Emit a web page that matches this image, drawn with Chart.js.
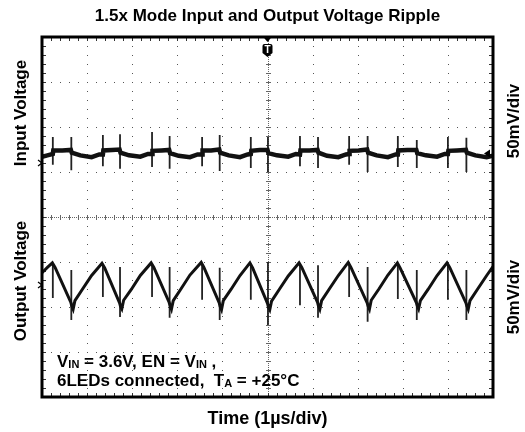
<!DOCTYPE html>
<html>
<head>
<meta charset="utf-8">
<script src="https://cdn.jsdelivr.net/npm/chart.js@4.4.1/dist/chart.umd.min.js"></script>
<style>
  html, body { margin: 0; padding: 0; background: #fff; }
  #wrap { width: 525px; height: 432px; }
</style>
</head>
<body>
<div id="wrap"><canvas id="scope" width="525" height="432"></canvas></div>
<script>
// scope screen: 10 x 8 divisions, 1us/div, 50mV/div on both channels
const timeDivs = [0, 10];
const voltDivs = [-4, 4];

// switching events (us) - both traces spike here
const switchTime = [0.24, 0.65, 1.35, 1.73, 2.44, 2.83, 3.55, 3.94, 4.63, 5.01,
  5.72, 6.12, 6.81, 7.22, 7.89, 8.31, 9.00, 9.41];

// channel 1, input voltage (divisions from screen centre)
const inTime = [0.00, 0.12,
  0.24, 0.25, 0.45, 0.64, 0.66, 0.85, 1.10, 1.27,
  1.35, 1.36, 1.55, 1.72, 1.74, 1.93, 2.18, 2.35,
  2.44, 2.45, 2.65, 2.82, 2.84, 3.03, 3.28, 3.45,
  3.55, 3.56, 3.75, 3.93, 3.95, 4.14, 4.39, 4.56,
  4.63, 4.64, 4.83, 5.00, 5.02, 5.21, 5.46, 5.63,
  5.72, 5.73, 5.93, 6.11, 6.13, 6.32, 6.57, 6.74,
  6.81, 6.82, 7.02, 7.21, 7.23, 7.42, 7.67, 7.84,
  7.89, 7.90, 8.10, 8.30, 8.32, 8.51, 8.76, 8.93,
  9.00, 9.01, 9.20, 9.40, 9.42, 9.61, 9.86, 10.00];
const inLevel = [1.34, 1.37,
  1.40, 1.48, 1.48, 1.49, 1.43, 1.37, 1.33, 1.39,
  1.39, 1.48, 1.49, 1.50, 1.43, 1.37, 1.34, 1.40,
  1.40, 1.47, 1.48, 1.49, 1.42, 1.36, 1.33, 1.39,
  1.39, 1.48, 1.48, 1.50, 1.43, 1.37, 1.33, 1.39,
  1.40, 1.47, 1.49, 1.49, 1.42, 1.37, 1.34, 1.40,
  1.39, 1.48, 1.48, 1.49, 1.43, 1.36, 1.33, 1.39,
  1.40, 1.47, 1.48, 1.50, 1.43, 1.37, 1.33, 1.39,
  1.39, 1.48, 1.49, 1.49, 1.42, 1.37, 1.34, 1.40,
  1.40, 1.47, 1.48, 1.49, 1.43, 1.37, 1.33, 1.36];
const inSpikeHigh = [1.78, 1.78, 1.82, 1.84, 1.89, 1.80, 1.78, 1.82, 1.78, 1.78,
  1.80, 1.78, 1.80, 1.80, 1.80, 1.71, 1.78, 1.76];
const inSpikeLow = [1.16, 1.04, 1.13, 1.07, 1.11, 1.07, 1.13, 1.02, 1.09, 1.00,
  1.13, 1.09, 1.16, 1.00, 1.11, 1.09, 1.09, 1.00];

// channel 2, output voltage
const outTime = [0.00, 0.12,
  0.23, 0.29, 0.64, 0.66, 0.69, 0.73, 0.90, 1.10,
  1.33, 1.39, 1.72, 1.74, 1.77, 1.81, 1.98, 2.18,
  2.42, 2.48, 2.82, 2.84, 2.87, 2.91, 3.08, 3.28,
  3.53, 3.59, 3.93, 3.95, 3.98, 4.02, 4.19, 4.39,
  4.61, 4.67, 5.00, 5.02, 5.05, 5.09, 5.26, 5.46,
  5.70, 5.76, 6.11, 6.13, 6.16, 6.20, 6.37, 6.57,
  6.79, 6.85, 7.21, 7.23, 7.26, 7.30, 7.47, 7.67,
  7.88, 7.94, 8.30, 8.32, 8.35, 8.39, 8.56, 8.76,
  8.98, 9.04, 9.40, 9.42, 9.45, 9.49, 9.66, 9.86,
  10.00];
const outLevel = [-1.24, -1.12,
  -1.02, -1.12, -1.90, -1.98, -2.05, -1.86, -1.60, -1.30,
  -1.03, -1.13, -1.91, -1.98, -2.04, -1.85, -1.61, -1.30,
  -1.02, -1.12, -1.90, -1.97, -2.05, -1.86, -1.60, -1.29,
  -1.01, -1.12, -1.91, -1.99, -2.06, -1.86, -1.61, -1.30,
  -1.02, -1.13, -1.92, -2.00, -2.06, -1.87, -1.61, -1.31,
  -1.02, -1.12, -1.90, -1.98, -2.05, -1.86, -1.60, -1.30,
  -1.01, -1.12, -1.91, -1.98, -2.05, -1.85, -1.60, -1.29,
  -1.02, -1.13, -1.90, -1.97, -2.04, -1.86, -1.61, -1.30,
  -1.02, -1.12, -1.91, -1.98, -2.05, -1.86, -1.60, -1.30,
  -1.10];
const outSpikeHigh = [-1.04, -1.18, -1.04, -1.11, -1.04, -1.11, -1.04, -1.13, -1.04, -1.00,
  -1.04, -1.07, -1.04, -1.11, -1.04, -1.18, -1.04, -1.18];
const outSpikeLow = [-1.80, -2.29, -1.78, -2.22, -1.78, -2.24, -1.84, -2.29, -1.84, -2.40,
  -1.96, -2.24, -1.78, -2.33, -1.82, -2.29, -1.84, -2.29];

// channel ground markers (div) and trigger
const chMarker = [1.20, -1.51];
const trigTime = 5;
const trigLevel = 1.41;

const FONT = '"Liberation Sans", Arial, sans-serif';

function trace(ts, vs) {
  return ts.map((t, i) => ({ x: t, y: vs[i] }));
}

function spikes(ts, hi, lo) {
  const pts = [];
  ts.forEach((t, i) => {
    pts.push({ x: t, y: hi[i] }, { x: t, y: lo[i] }, { x: t, y: null });
  });
  return pts;
}

// graticule: dotted divisions, crosshair with minor ticks, edge ticks
const graticule = {
  id: "graticule",
  beforeDatasetsDraw(chart) {
    const { ctx, chartArea: a, scales: { x, y } } = chart;
    ctx.save();
    ctx.fillStyle = "#555";
    const xs = [], ys = [];
    for (let j = 0; j <= 50; j++) xs.push(Math.round(x.getPixelForValue(j * 0.2)));
    for (let j = 0; j <= 40; j++) ys.push(Math.round(y.getPixelForValue(-4 + j * 0.2)));

    for (let i = 1; i < 10; i++) {
      if (i === 5) continue;
      const px = Math.round(x.getPixelForValue(i));
      ys.forEach((py) => ctx.fillRect(px, py, 1, 1));
    }
    for (let i = -3; i <= 3; i++) {
      if (i === 0) continue;
      const py = Math.round(y.getPixelForValue(i));
      xs.forEach((px) => ctx.fillRect(px, py, 1, 1));
    }

    // crosshair
    const cx = Math.round(x.getPixelForValue(5));
    const cy = Math.round(y.getPixelForValue(0));
    ctx.fillStyle = "#666";
    for (let p = a.top; p < a.bottom; p += 2) ctx.fillRect(cx, p, 1, 1);
    for (let p = a.left; p < a.right; p += 2) ctx.fillRect(p, cy, 1, 1);
    ys.forEach((py) => ctx.fillRect(cx - 2, py, 5, 1));
    xs.forEach((px) => ctx.fillRect(px, cy - 2, 1, 5));

    // edge ticks
    ctx.fillStyle = "#333";
    ys.forEach((py) => {
      ctx.fillRect(a.left, py, 4, 1);
      ctx.fillRect(a.right - 4, py, 4, 1);
    });
    xs.forEach((px) => {
      ctx.fillRect(px, a.top, 1, 4);
      ctx.fillRect(px, a.bottom - 4, 1, 4);
    });
    ctx.restore();
  },
  afterDatasetsDraw(chart) {
    const { ctx, chartArea: a, scales: { x, y } } = chart;
    ctx.save();
    ctx.strokeStyle = "#000";
    ctx.lineWidth = 3;
    ctx.strokeRect(a.left, a.top, a.right - a.left, a.bottom - a.top);

    // trigger position marker
    const tx = x.getPixelForValue(trigTime);
    ctx.fillStyle = "#000";
    ctx.beginPath();
    ctx.moveTo(tx - 5, a.top - 1);
    ctx.lineTo(tx + 5, a.top - 1);
    ctx.lineTo(tx, a.top + 5);
    ctx.closePath();
    ctx.fill();
    ctx.beginPath();
    ctx.moveTo(tx - 5, a.top + 9);
    ctx.quadraticCurveTo(tx - 5, a.top + 7, tx - 3, a.top + 7);
    ctx.lineTo(tx + 3, a.top + 7);
    ctx.quadraticCurveTo(tx + 5, a.top + 7, tx + 5, a.top + 9);
    ctx.lineTo(tx + 5, a.top + 16);
    ctx.lineTo(tx, a.top + 20);
    ctx.lineTo(tx - 5, a.top + 16);
    ctx.closePath();
    ctx.fill();
    ctx.fillStyle = "#fff";
    ctx.font = "bold 10px " + FONT;
    ctx.textAlign = "center";
    ctx.textBaseline = "middle";
    ctx.fillText("T", tx, a.top + 13);

    // trigger level marker
    const ty = y.getPixelForValue(trigLevel);
    ctx.fillStyle = "#000";
    ctx.beginPath();
    ctx.moveTo(a.right - 9, ty);
    ctx.lineTo(a.right - 3, ty - 4);
    ctx.lineTo(a.right - 3, ty + 4);
    ctx.closePath();
    ctx.fill();

    // channel ground markers
    ctx.strokeStyle = "#000";
    ctx.lineWidth = 1.2;
    chMarker.forEach((v) => {
      const my = y.getPixelForValue(v);
      ctx.beginPath();
      ctx.moveTo(a.left - 4, my - 3);
      ctx.lineTo(a.left, my);
      ctx.lineTo(a.left - 4, my + 3);
      ctx.stroke();
    });
    ctx.restore();
  },
  afterDraw(chart) {
    const { ctx, chartArea: a } = chart;
    const mid = (a.left + a.right) / 2;
    ctx.save();
    ctx.fillStyle = "#000";
    ctx.textBaseline = "alphabetic";
    ctx.font = "bold 17px " + FONT;
    ctx.textAlign = "center";
    ctx.fillText("1.5x Mode Input and Output Voltage Ripple", mid, 21);
    ctx.font = "bold 18px " + FONT;
    ctx.fillText("Time (1\u00b5s/div)", mid, 424);

    ctx.font = "bold 17px " + FONT;
    const vert = (text, px, py) => {
      ctx.save();
      ctx.translate(px, py);
      ctx.rotate(-Math.PI / 2);
      ctx.fillText(text, 0, 0);
      ctx.restore();
    };
    vert("Input Voltage", 26, 113);
    vert("Output Voltage", 26, 281);
    vert("50mV/div", 519, 121);
    vert("50mV/div", 519, 297);

    // test conditions note, with subscripts
    ctx.textAlign = "left";
    const line = (parts, px, py) => {
      let cx = px;
      parts.forEach(([txt, sub]) => {
        ctx.font = sub ? "bold 11px " + FONT : "bold 17px " + FONT;
        ctx.fillText(txt, cx, py + (sub ? 1 : 0));
        cx += ctx.measureText(txt).width;
      });
    };
    line([["V"], ["IN", 1], [" = 3.6V, EN = V"], ["IN", 1], [" ,"]], 57, 367);
    line([["6LEDs connected,  T"], ["A", 1], [" = +25\u00b0C"]], 57, 386);
    ctx.restore();
  }
};

new Chart(document.getElementById("scope"), {
  type: "line",
  data: {
    datasets: [
      { data: trace(inTime, inLevel), borderColor: "#111", borderWidth: 4.5 },
      { data: spikes(switchTime, inSpikeHigh, inSpikeLow), borderColor: "#222", borderWidth: 1.8 },
      { data: trace(outTime, outLevel), borderColor: "#111", borderWidth: 3 },
      { data: spikes(switchTime, outSpikeHigh, outSpikeLow), borderColor: "#222", borderWidth: 1.8 }
    ]
  },
  options: {
    responsive: false,
    animation: false,
    layout: { padding: { left: 42, right: 32, top: 37, bottom: 35 } },
    elements: { point: { radius: 0 }, line: { tension: 0 } },
    spanGaps: false,
    scales: {
      x: { type: "linear", min: timeDivs[0], max: timeDivs[1], display: false },
      y: { type: "linear", min: voltDivs[0], max: voltDivs[1], display: false }
    },
    plugins: { legend: { display: false }, tooltip: { enabled: false } }
  },
  plugins: [graticule]
});
</script>
</body>
</html>
